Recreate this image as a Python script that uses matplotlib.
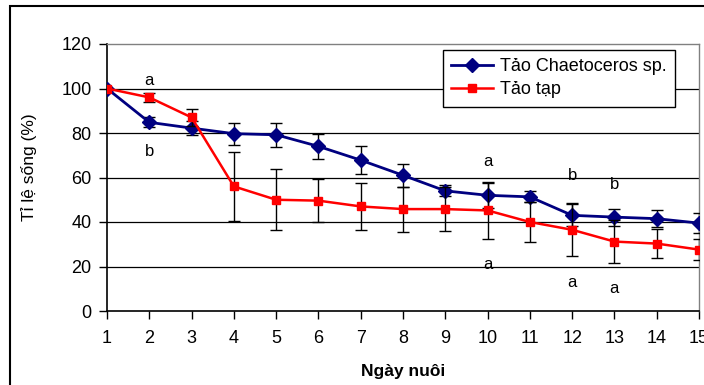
import matplotlib
matplotlib.use("Agg")
import matplotlib.pyplot as plt
from matplotlib.patches import Rectangle
from matplotlib.lines import Line2D

plt.rcParams['font.family'] = ['Liberation Sans', 'DejaVu Sans']

days = list(range(1, 16))
chaeto = [100, 84.8, 82.2, 79.7, 79.2, 74.0, 67.8, 61.0, 54.0, 52.0, 51.3, 43.0, 42.2, 41.5, 39.5]
chaeto_err = [0, 2.3, 3.2, 5.0, 5.5, 5.6, 6.3, 5.2, 2.5, 5.5, 2.5, 5.0, 3.8, 3.8, 4.5]
taotap = [100, 96.0, 87.0, 56.0, 50.0, 49.6, 47.0, 45.8, 45.8, 45.2, 40.0, 36.5, 31.2, 30.3, 27.6]
taotap_err = [0, 2.0, 3.8, 15.5, 13.7, 9.6, 10.4, 10.1, 10.0, 13.0, 9.0, 12.0, 9.5, 6.6, 4.7]
yticks = [0, 20, 40, 60, 80, 100, 120]
letters = [(2, 103.5, 'a'), (2, 71.5, 'b'), (10, 67, 'a'), (10, 21, 'a'),
           (12, 61, 'b'), (12, 13, 'a'), (13, 57, 'b'), (13, 10, 'a')]

fig = plt.figure(figsize=(7.04, 3.85), dpi=100)
ax = fig.add_axes([107/704, 1-311/385, (699-107)/704, (311-44)/385])

fig.patches.append(Rectangle((10/704, -0.05), 1.1, 0.05+1-6/385, transform=fig.transFigure,
                             fill=False, edgecolor='black', linewidth=1.5))

for y in yticks[1:-1]:
    ax.axhline(y, color='black', linewidth=0.9, zorder=1)

ax.errorbar(days, chaeto, yerr=chaeto_err, color='#000080', ecolor='black', elinewidth=1.0,
            capsize=4.5, capthick=1.0, marker='D', markersize=6.8, linewidth=2.0,
            label='Tảo Chaetoceros sp.', zorder=3)
ax.errorbar(days, taotap, yerr=taotap_err, color='#FF0000', ecolor='black', elinewidth=1.0,
            capsize=4.5, capthick=1.0, marker='s', markersize=5.5, linewidth=1.8,
            label='Tảo tạp', zorder=4)

for x, y, t in letters:
    ax.text(x, y, t, fontsize=12, ha='center', va='center', zorder=5)

ax.set_xlim(1, 15)
ax.set_ylim(0, 120)
ax.set_xticks(days)
ax.set_yticks(yticks)
ax.tick_params(axis='both', labelsize=13, length=6, width=1.0, direction='out', pad=5)
ax.tick_params(axis='x', pad=8)
for s in ['left', 'bottom']:
    ax.spines[s].set_color('black')
    ax.spines[s].set_linewidth(1.2)
for s in ['top', 'right']:
    ax.spines[s].set_color('#808080')
    ax.spines[s].set_linewidth(1.0)

ax.set_xlabel('Ngày nuôi', fontsize=12.5, fontweight='bold', labelpad=12)
ax.set_ylabel('Tỉ lệ sống (%)', fontsize=12.5)
ax.yaxis.set_label_coords(-0.118, 0.54)

handles = [Line2D([], [], color='#000080', marker='D', markersize=6.8, linewidth=2.0),
           Line2D([], [], color='#FF0000', marker='s', markersize=5.5, linewidth=1.8)]
leg = ax.legend(handles, ['Tảo Chaetoceros sp.', 'Tảo tạp'], loc='upper left',
                bbox_to_anchor=((443-107)/592, 1-(50-44)/267), fontsize=13, frameon=True,
                fancybox=False, edgecolor='black', framealpha=1, handlelength=2.3,
                handletextpad=0.4, borderpad=0.45, labelspacing=0.35, borderaxespad=0)
leg.get_frame().set_linewidth(1.0)

fig.savefig('out.png', dpi=100)
